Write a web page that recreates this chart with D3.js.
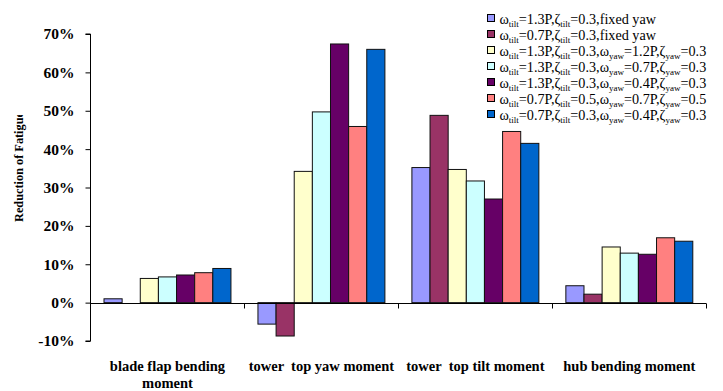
<!DOCTYPE html>
<html>
<head>
<meta charset="utf-8">
<script src="https://cdn.jsdelivr.net/npm/d3@7/dist/d3.min.js"></script>
<style>
  body { margin: 0; background: #fff; }
  svg { font-family: "Liberation Serif", "Times New Roman", serif; }
</style>
</head>
<body>
<div id="chart"></div>
<script>
// categories on the x axis ("\n" marks a line break)
var categories = ["blade flap bending\nmoment", "tower  top yaw moment", "tower  top tilt moment", "hub bending moment"];

// one array per series, in category order (fraction of reduction)
var s1 = [0.010, -0.056, 0.352, 0.044];
var s2 = [null, -0.087, 0.488, 0.022];
var s3 = [0.063, 0.342, 0.347, 0.145];
var s4 = [0.067, 0.497, 0.317, 0.129];
var s5 = [0.072, 0.674, 0.270, 0.126];
var s6 = [0.078, 0.459, 0.446, 0.169];
var s7 = [0.089, 0.660, 0.415, 0.160];
var seriesValues = [s1, s2, s3, s4, s5, s6, s7];

var colors = ["#9999FF", "#993366", "#FFFFCC", "#CCFFFF", "#660066", "#FF8080", "#0066CC"];

// legend parameters
var wTilt = ["1.3P", "0.7P", "1.3P", "1.3P", "1.3P", "0.7P", "0.7P"];
var zTilt = ["0.3", "0.3", "0.3", "0.3", "0.3", "0.5", "0.3"];
var wYaw = [null, null, "1.2P", "0.7P", "0.4P", "0.7P", "0.4P"];
var zYaw = [null, null, "0.3", "0.3", "0.3", "0.5", "0.3"];

var yTicks = [-0.1, 0, 0.1, 0.2, 0.3, 0.4, 0.5, 0.6, 0.7];

var width = 723, height = 391;

var svg = d3.select("#chart")
    .append("svg")
    .attr("width", width)
    .attr("height", height);

var y = d3.scaleLinear().domain([-0.1, 0.7]).range([341, 34]);

var x0 = d3.scaleBand()
    .domain(categories)
    .range([90.5, 706.3]);

var x1 = d3.scaleBand()
    .domain(d3.range(seriesValues.length))
    .range([13.5, x0.bandwidth() - 13.5]);

// bars
var groups = svg.selectAll(".cat")
    .data(categories)
    .enter().append("g")
    .attr("class", "cat")
    .attr("transform", function (d) { return "translate(" + x0(d) + ",0)"; });

groups.selectAll("rect")
    .data(function (d, ci) {
        return seriesValues.map(function (s, si) { return { si: si, v: s[ci] }; })
            .filter(function (e) { return e.v !== null; });
    })
    .enter().append("rect")
    .attr("x", function (d) { return x1(d.si); })
    .attr("y", function (d) { return y(Math.max(0, d.v)); })
    .attr("width", x1.bandwidth())
    .attr("height", function (d) { return Math.abs(y(d.v) - y(0)); })
    .style("fill", function (d) { return colors[d.si]; })
    .style("stroke", "#111")
    .style("stroke-width", 1);

// y axis
var pct = d3.format(".0%");
var yAxis = d3.axisLeft(y)
    .tickValues(yTicks)
    .tickSize(5)
    .tickPadding(11)
    .tickFormat(function (d) { return pct(d).replace("\u2212", "-"); });

var ya = svg.append("g")
    .attr("transform", "translate(90.5,0)")
    .call(yAxis);
ya.select(".domain").attr("d", "M-5," + y(0.7) + "H0V" + y(-0.1) + "H-5");
ya.selectAll("text")
    .style("font-family", "Liberation Serif")
    .style("font-size", "15.5px")
    .style("font-weight", "bold")
    .attr("fill", "#000");

// x axis at zero with ticks between categories
var boundaries = categories.map(function (d) { return x0(d); }).concat([x0.range()[1]]);
svg.append("line")
    .attr("x1", 90.5).attr("x2", x0.range()[1])
    .attr("y1", Math.round(y(0)) + 0.5).attr("y2", Math.round(y(0)) + 0.5)
    .style("stroke", "#000");
svg.selectAll(".xtick")
    .data(boundaries.slice(1))
    .enter().append("line")
    .attr("x1", function (d) { return Math.round(d) + 0.5; })
    .attr("x2", function (d) { return Math.round(d) + 0.5; })
    .attr("y1", Math.round(y(0)) + 0.5)
    .attr("y2", Math.round(y(0)) + 5.5)
    .style("stroke", "#000");

// category labels
svg.selectAll(".catlabel")
    .data(categories)
    .enter().append("text")
    .attr("text-anchor", "middle")
    .style("font-size", "14.5px")
    .style("font-weight", "bold")
    .style("white-space", "pre")
    .attr("xml:space", "preserve")
    .attr("transform", function (d) { return "translate(" + (x0(d) + x0.bandwidth() / 2) + ",371)"; })
    .selectAll("tspan")
    .data(function (d) { return d.split("\n"); })
    .enter().append("tspan")
    .attr("x", 0)
    .attr("dy", function (d, i) { return i === 0 ? 0 : 17; })
    .text(function (d) { return d; });

// y title (clipped like the original)
svg.append("clipPath").attr("id", "titleclip")
    .append("rect").attr("x", 0).attr("y", 115).attr("width", 40).attr("height", 200);
svg.append("g")
    .attr("clip-path", "url(#titleclip)")
    .append("text")
    .attr("transform", "translate(22.5,222) rotate(-90)")
    .style("font-size", "12.3px")
    .style("font-weight", "bold")
    .text("Reduction of Fatigue");

// legend
var legend = svg.selectAll(".leg")
    .data(colors)
    .enter().append("g")
    .attr("class", "leg")
    .attr("transform", function (d, i) { return "translate(487," + (19 + i * 16) + ")"; });

legend.append("rect")
    .attr("x", 0.5).attr("y", -4.5)
    .attr("width", 7).attr("height", 7)
    .style("fill", function (d) { return d; })
    .style("stroke", "#000");

function addParam(t, sym, sub, val, comma) {
    t.append("tspan").text(sym);
    t.append("tspan").attr("dy", 3).style("font-size", "9px").text(sub);
    t.append("tspan").attr("dy", -3).text("=" + val + (comma ? "," : ""));
}

legend.append("text")
    .attr("x", 12.5)
    .attr("y", 4.5)
    .style("font-size", "14.2px")
    .each(function (d, i) {
        var t = d3.select(this);
        addParam(t, "\u03C9", "tilt", wTilt[i], true);
        addParam(t, "\u03B6", "tilt", zTilt[i], true);
        if (wYaw[i] === null) {
            t.append("tspan").text("fixed yaw");
        } else {
            addParam(t, "\u03C9", "yaw", wYaw[i], true);
            addParam(t, "\u03B6", "yaw", zYaw[i], false);
        }
    });
</script>
</body>
</html>
